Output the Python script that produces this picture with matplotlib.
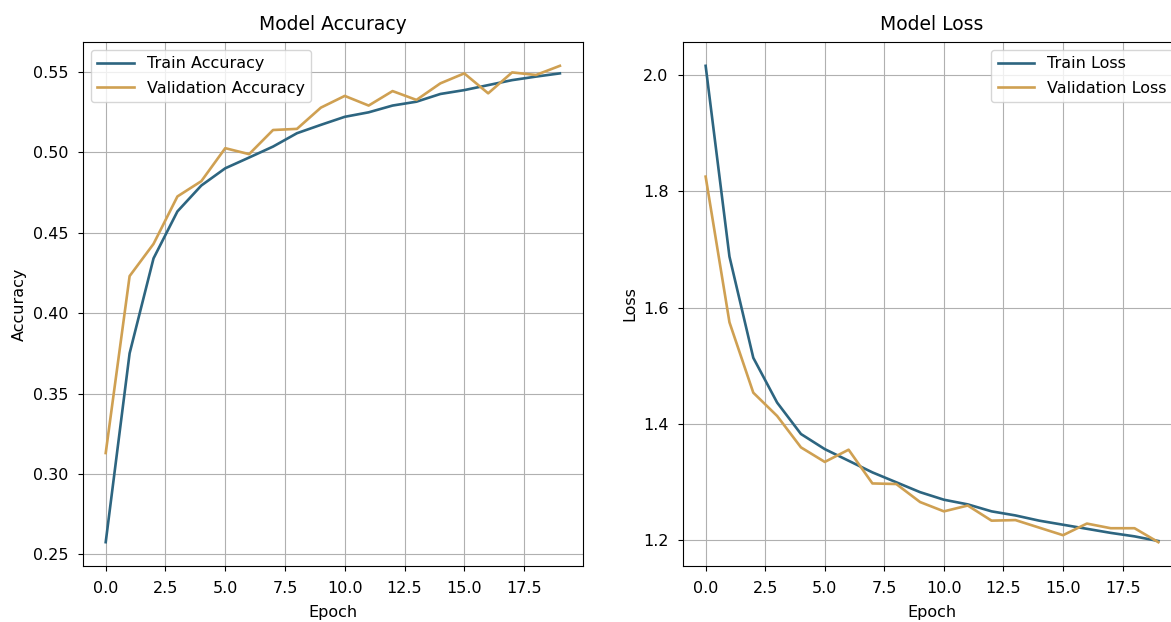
import matplotlib
matplotlib.use("Agg")
import matplotlib.pyplot as plt

epochs = list(range(20))

train_acc = [0.2576, 0.375, 0.434, 0.4632, 0.4793, 0.490, 0.4967, 0.5035, 0.5118, 0.517,
             0.522, 0.5248, 0.529, 0.5314, 0.5362, 0.5386, 0.5417, 0.5448, 0.547, 0.549]
val_acc = [0.313, 0.423, 0.443, 0.4725, 0.482, 0.5025, 0.4988, 0.5138, 0.5145, 0.5277,
           0.535, 0.529, 0.538, 0.5325, 0.5428, 0.549, 0.5366, 0.5496, 0.548, 0.5537]

train_loss = [2.016, 1.688, 1.514, 1.437, 1.383, 1.357, 1.337, 1.317, 1.300, 1.283,
              1.270, 1.262, 1.250, 1.243, 1.234, 1.227, 1.220, 1.213, 1.207, 1.199]
val_loss = [1.8255, 1.575, 1.454, 1.414, 1.360, 1.335, 1.356, 1.298, 1.297, 1.266,
            1.250, 1.260, 1.234, 1.235, 1.222, 1.209, 1.229, 1.221, 1.221, 1.197]

BLUE = "#2d6580"
ORANGE = "#cfa052"
FS = 11.5

fig = plt.figure(figsize=(11.71, 6.22), dpi=100)
ax1 = fig.add_axes([83 / 1171, 56 / 622, 499.6 / 1171, 524 / 622])
ax2 = fig.add_axes([683 / 1171, 56 / 622, 498 / 1171, 524 / 622])

ax1.plot(epochs, train_acc, color=BLUE, lw=1.9, label="Train Accuracy")
ax1.plot(epochs, val_acc, color=ORANGE, lw=1.9, label="Validation Accuracy")
ax1.set_title("Model Accuracy", fontsize=13.5, pad=9)
ax1.set_xlabel("Epoch", fontsize=FS, labelpad=6)
ax1.set_ylabel("Accuracy", fontsize=FS)
ax1.legend(loc="upper left", fontsize=FS, labelspacing=0.6, handlelength=2.3)
ax1.grid(True)

ax2.plot(epochs, train_loss, color=BLUE, lw=1.9, label="Train Loss")
ax2.plot(epochs, val_loss, color=ORANGE, lw=1.9, label="Validation Loss")
ax2.set_title("Model Loss", fontsize=13.5, pad=9)
ax2.set_xlabel("Epoch", fontsize=FS, labelpad=6)
ax2.set_ylabel("Loss", fontsize=FS)
ax2.legend(loc="upper right", fontsize=FS, labelspacing=0.6, handlelength=2.3)
ax2.grid(True)

for ax in (ax1, ax2):
    ax.tick_params(axis="x", labelsize=FS, pad=7.5)
    ax.tick_params(axis="y", labelsize=FS, pad=7)

fig.savefig("out.png", dpi=100)
